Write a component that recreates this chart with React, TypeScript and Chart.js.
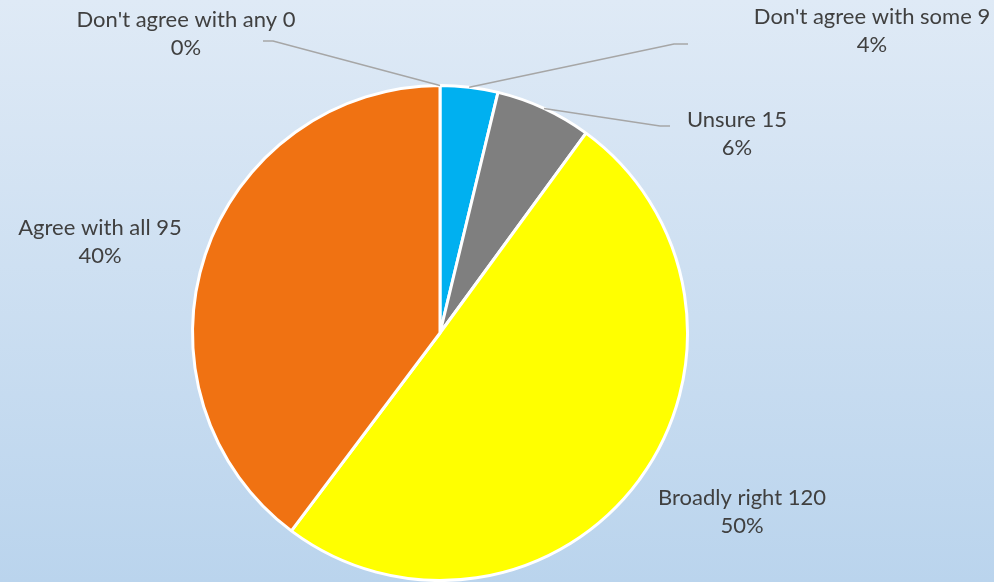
import React, { useEffect, useRef } from "react";
import { Chart, registerables } from "chart.js";

Chart.register(...registerables);

const categories = ["Don't agree with any", "Don't agree with some", "Unsure", "Broadly right", "Agree with all"];
const values = [0, 9, 15, 120, 95];
const colors = ["#4472C4", "#00B0F0", "#7F7F7F", "#FFFF00", "#F07212"];

// label layout (style): label centre relative to pie centre, and optional leader elbow/end relative to label centre
const labelLayout = [
  { dx: -254, dy: -299, leader: [[87, 7], [77, 7]] },
  { dx: 432, dy: -302, leader: [[-198, 13], [-184, 13]] },
  { dx: 297, dy: -199, leader: [[-77, -8], [-67, -8]] },
  { dx: 302, dy: 179, leader: null },
  { dx: -340, dy: -91, leader: null },
];

const FONT = "22px Lato, 'Open Sans', sans-serif";
const LINE_GAP = 28;

const bgPlugin = {
  id: "bg",
  beforeDraw(chart: any) {
    const { ctx, width, height } = chart;
    const g = ctx.createLinearGradient(0, 0, 0, height);
    g.addColorStop(0, "#dfeaf6");
    g.addColorStop(1, "#bad4ed");
    ctx.save();
    ctx.fillStyle = g;
    ctx.fillRect(0, 0, width, height);
    ctx.restore();
  },
};

const labelPlugin = {
  id: "pieLabels",
  afterDraw(chart: any) {
    const { ctx } = chart;
    const meta = chart.getDatasetMeta(0);
    const data = chart.data.datasets[0].data as number[];
    const total = data.reduce((a, b) => a + b, 0);
    ctx.save();
    meta.data.forEach((arc: any, i: number) => {
      const p = arc.getProps(["x", "y", "startAngle", "endAngle", "outerRadius"], true);
      const lay = labelLayout[i];
      const lx = p.x + lay.dx;
      const ly = p.y + lay.dy;
      if (lay.leader) {
        const mid = (p.startAngle + p.endAngle) / 2;
        const ax = p.x + Math.cos(mid) * p.outerRadius;
        const ay = p.y + Math.sin(mid) * p.outerRadius;
        ctx.beginPath();
        ctx.strokeStyle = "#a6a6a6";
        ctx.lineWidth = 1.5;
        ctx.moveTo(ax, ay);
        ctx.lineTo(lx + lay.leader[0][0], ly + lay.leader[0][1]);
        ctx.lineTo(lx + lay.leader[1][0], ly + lay.leader[1][1]);
        ctx.stroke();
      }
      ctx.fillStyle = "#404040";
      ctx.font = FONT;
      ctx.textAlign = "center";
      ctx.textBaseline = "middle";
      const pct = Math.round((data[i] / total) * 100) + "%";
      ctx.fillText(`${chart.data.labels[i]} ${data[i]}`, lx, ly - LINE_GAP / 2);
      ctx.fillText(pct, lx, ly + LINE_GAP / 2);
    });
    ctx.restore();
  },
};

export default function App() {
  const ref = useRef<HTMLCanvasElement>(null);
  useEffect(() => {
    if (!ref.current) return;
    const chart = new Chart(ref.current, {
      type: "pie",
      data: {
        labels: categories,
        datasets: [
          {
            data: values,
            backgroundColor: colors,
            borderColor: "#ffffff",
            borderWidth: 3,
          },
        ],
      },
      options: {
        animation: false,
        responsive: false,
        layout: { padding: { left: 191, right: 305, top: 84, bottom: 0 } },
        plugins: { legend: { display: false }, tooltip: { enabled: false } },
      },
      plugins: [bgPlugin, labelPlugin],
    });
    return () => chart.destroy();
  }, []);
  return (
    <div style={{ position: "fixed", left: 0, top: 0, width: 994, height: 582 }}>
      <canvas ref={ref} width={994} height={582} style={{ display: "block" }} />
    </div>
  );
}
